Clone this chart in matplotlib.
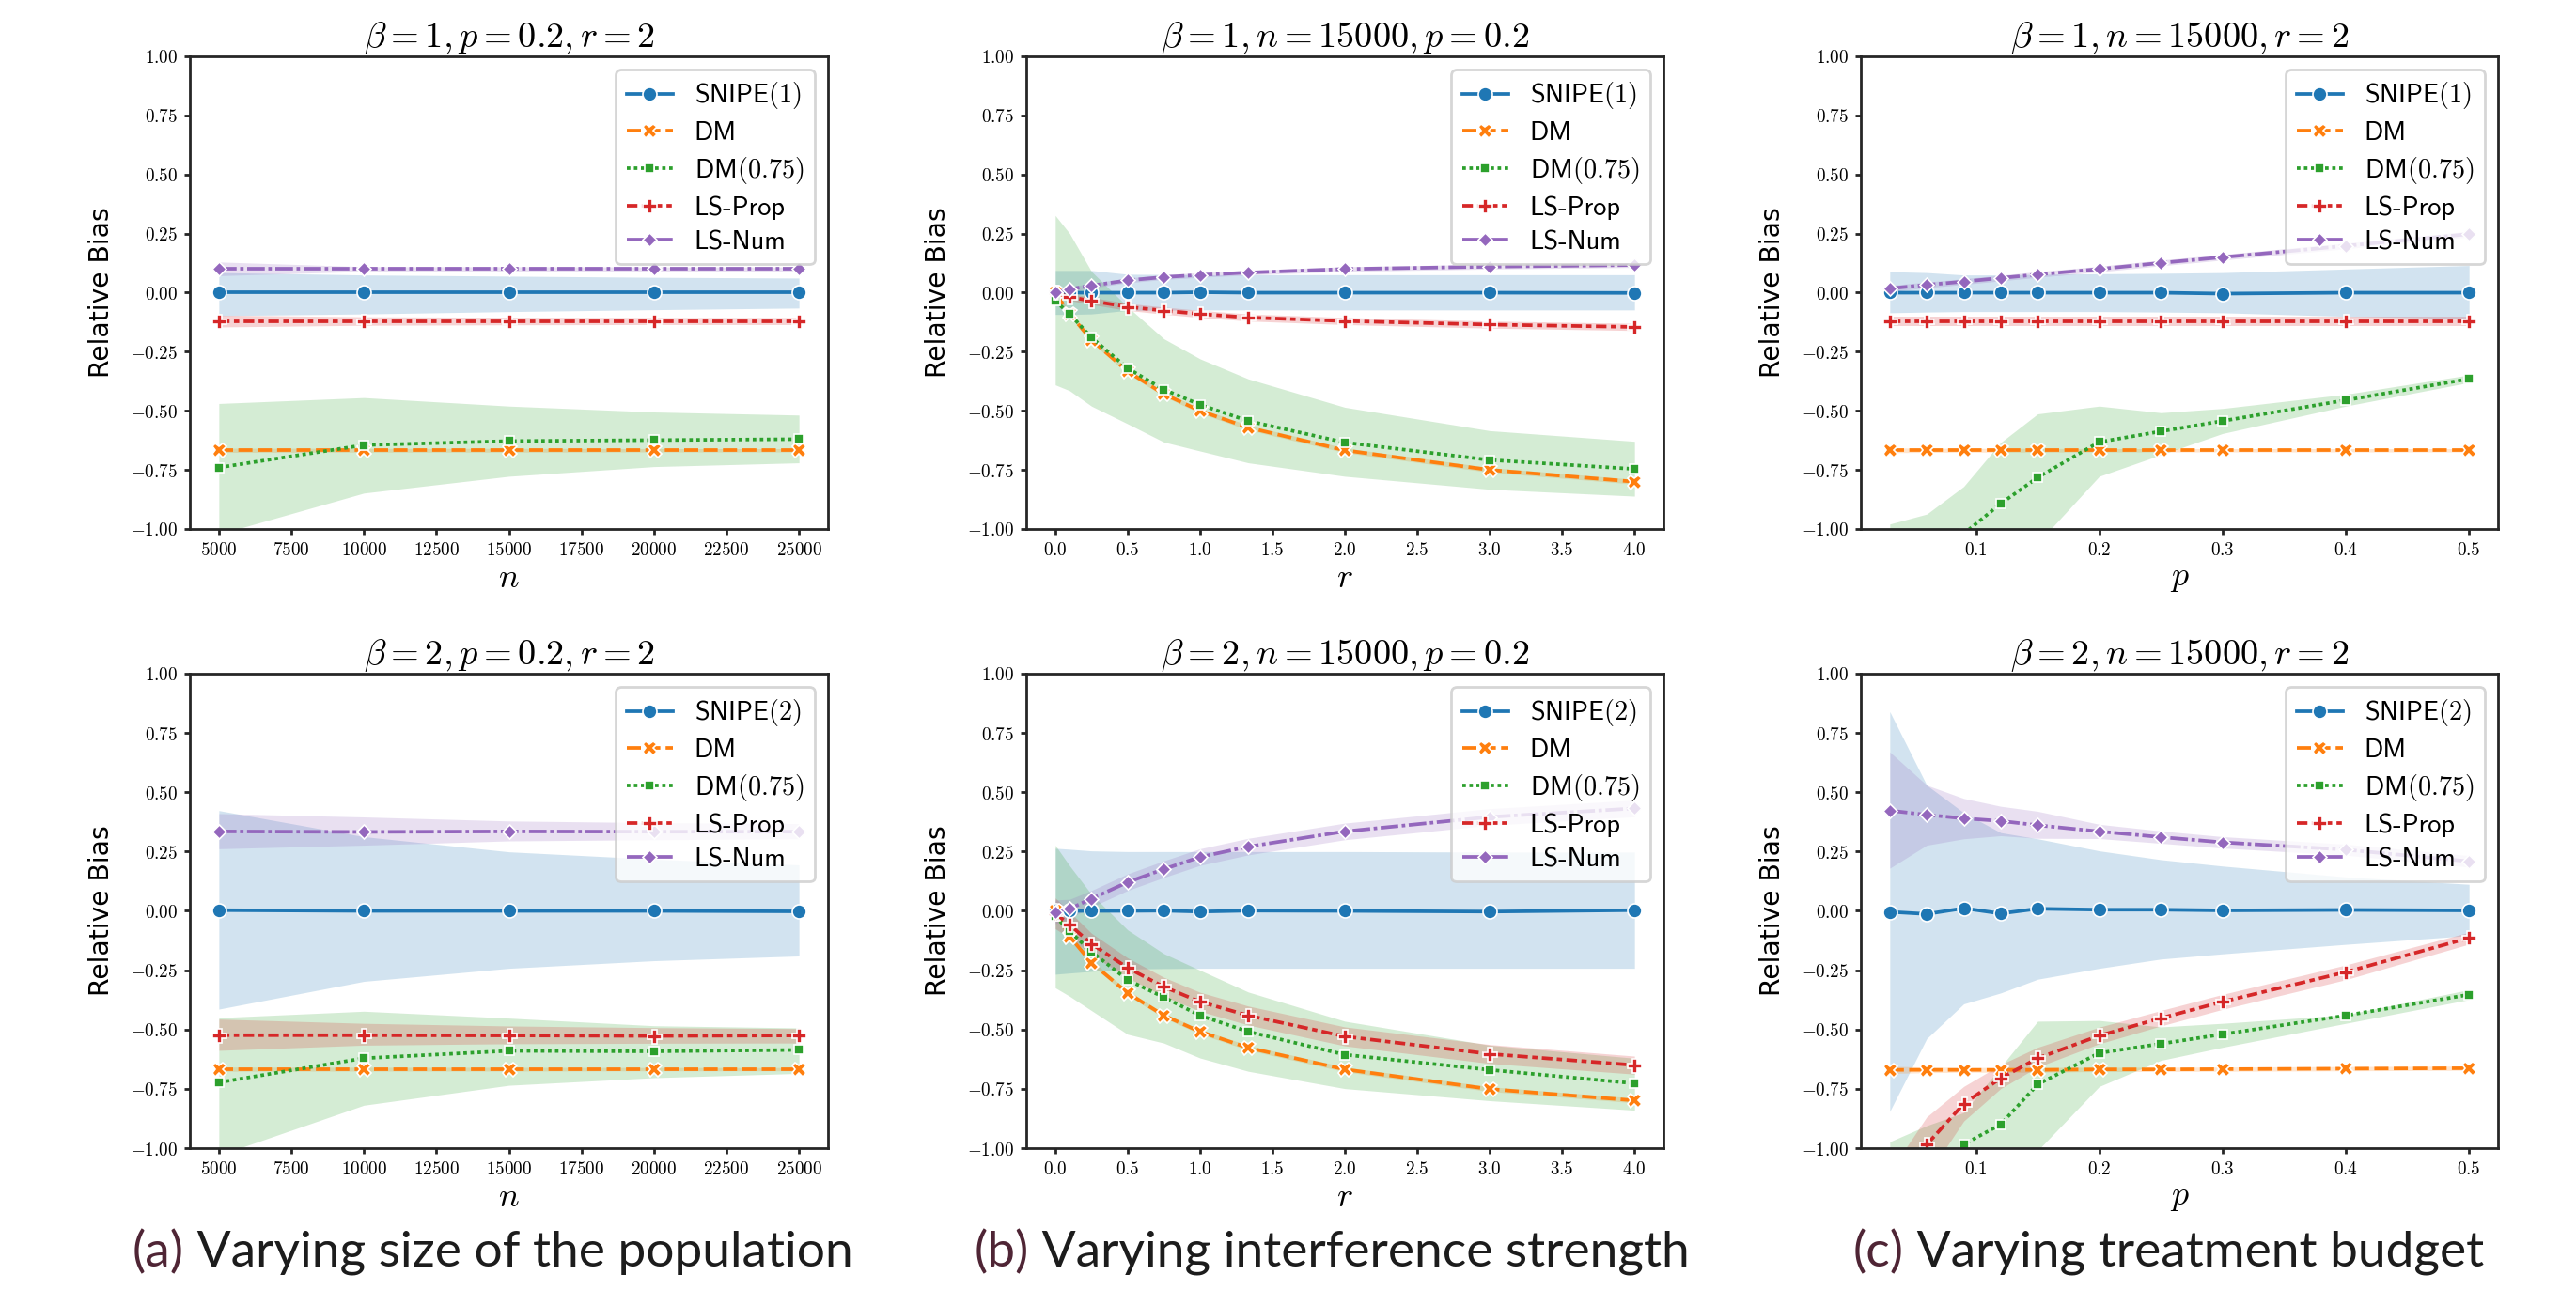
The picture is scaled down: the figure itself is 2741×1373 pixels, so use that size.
import numpy as np
import matplotlib
matplotlib.use('Agg')
import matplotlib.pyplot as plt
from matplotlib.ticker import FuncFormatter, MultipleLocator

plt.rcParams['mathtext.fontset'] = 'cm'

# x values of the three sweeps
n_vals = [5000, 10000, 15000, 20000, 25000]
r_vals = [0, 0.1, 0.25, 0.5, 0.75, 1.0, 1.333, 2.0, 3.0, 4.0]
p_vals = [0.03, 0.06, 0.09, 0.12, 0.15, 0.2, 0.25, 0.3, 0.4, 0.5]

# ---- (a) top, beta=1, varying n
a1_snipe = [0.0, 0.0, 0.0, 0.0, 0.0]
a1_snipe_lo = [-0.097, -0.09, -0.08, -0.072, -0.065]
a1_snipe_hi = [0.085, 0.075, 0.07, 0.065, 0.062]
a1_dm = [-0.667, -0.667, -0.667, -0.667, -0.667]
a1_dm_lo = [-0.676, -0.675, -0.675, -0.674, -0.674]
a1_dm_hi = [-0.658, -0.659, -0.659, -0.66, -0.66]
a1_dm75 = [-0.74, -0.645, -0.628, -0.624, -0.62]
a1_dm75_lo = [-1.022, -0.848, -0.777, -0.736, -0.72]
a1_dm75_hi = [-0.469, -0.444, -0.48, -0.505, -0.518]
a1_lsp = [-0.12, -0.12, -0.12, -0.12, -0.12]
a1_lsp_lo = [-0.145, -0.138, -0.136, -0.135, -0.135]
a1_lsp_hi = [-0.095, -0.102, -0.104, -0.105, -0.105]
a1_lsn = [0.1, 0.1, 0.1, 0.1, 0.1]
a1_lsn_lo = [0.072, 0.09, 0.09, 0.09, 0.091]
a1_lsn_hi = [0.13, 0.11, 0.11, 0.109, 0.109]

# ---- (b) top, beta=1, varying r
b1_snipe = [0.0, 0.0, 0.0, 0.0, 0.0, 0.002, 0.0, 0.0, 0.0, -0.001]
b1_snipe_lo = [-0.092, -0.092, -0.09, -0.075, -0.074, -0.073, -0.073, -0.073, -0.073, -0.073]
b1_snipe_hi = [0.094, 0.094, 0.094, 0.078, 0.077, 0.076, 0.076, 0.076, 0.076, 0.076]
b1_dm = [0.0, -0.09, -0.2, -0.333, -0.429, -0.5, -0.571, -0.667, -0.75, -0.8]
b1_dm_lo = [-0.01, -0.1, -0.21, -0.343, -0.439, -0.51, -0.581, -0.677, -0.76, -0.81]
b1_dm_hi = [0.01, -0.08, -0.19, -0.323, -0.419, -0.49, -0.561, -0.657, -0.74, -0.79]
b1_dm75 = [-0.035, -0.09, -0.19, -0.32, -0.41, -0.474, -0.543, -0.634, -0.708, -0.746]
b1_dm75_lo = [-0.39, -0.415, -0.48, -0.555, -0.632, -0.67, -0.72, -0.777, -0.832, -0.861]
b1_dm75_hi = [0.327, 0.25, 0.09, -0.06, -0.195, -0.28, -0.365, -0.485, -0.584, -0.629]
b1_lsp = [0.0, -0.018, -0.035, -0.06, -0.076, -0.09, -0.105, -0.12, -0.135, -0.145]
b1_lsp_lo = [-0.015, -0.033, -0.05, -0.075, -0.091, -0.105, -0.12, -0.135, -0.15, -0.16]
b1_lsp_hi = [0.015, -0.003, -0.02, -0.045, -0.061, -0.075, -0.09, -0.105, -0.12, -0.13]
b1_lsn = [0.0, 0.015, 0.03, 0.052, 0.066, 0.075, 0.085, 0.1, 0.11, 0.117]
b1_lsn_lo = [-0.01, 0.005, 0.02, 0.042, 0.056, 0.065, 0.075, 0.09, 0.1, 0.107]
b1_lsn_hi = [0.01, 0.025, 0.04, 0.062, 0.076, 0.085, 0.095, 0.11, 0.12, 0.127]

# ---- (c) top, beta=1, varying p
c1_snipe = [0.0, 0.0, 0.0, 0.0, 0.0, 0.0, 0.0, -0.004, 0.0, 0.0]
c1_snipe_lo = [-0.085, -0.082, -0.08, -0.08, -0.08, -0.08, -0.082, -0.085, -0.1, -0.11]
c1_snipe_hi = [0.089, 0.085, 0.075, 0.075, 0.078, 0.08, 0.082, 0.085, 0.1, 0.115]
c1_dm = [-0.667, -0.667, -0.667, -0.667, -0.667, -0.667, -0.667, -0.667, -0.667, -0.667]
c1_dm_lo = [-0.677, -0.676, -0.675, -0.675, -0.675, -0.674, -0.674, -0.674, -0.674, -0.674]
c1_dm_hi = [-0.657, -0.658, -0.659, -0.659, -0.659, -0.66, -0.66, -0.66, -0.66, -0.66]
c1_dm75 = [-1.6, -1.3, -1.02, -0.893, -0.782, -0.632, -0.587, -0.543, -0.455, -0.365]
c1_dm75_lo = [-2.2, -1.9, -1.6, -1.3, -1.06, -0.777, -0.686, -0.596, -0.48, -0.38]
c1_dm75_hi = [-0.979, -0.937, -0.82, -0.634, -0.513, -0.48, -0.508, -0.49, -0.43, -0.348]
c1_lsp = [-0.12, -0.12, -0.12, -0.12, -0.12, -0.12, -0.12, -0.12, -0.12, -0.12]
c1_lsp_lo = [-0.14, -0.14, -0.14, -0.14, -0.14, -0.14, -0.14, -0.14, -0.14, -0.14]
c1_lsp_hi = [-0.1, -0.1, -0.1, -0.1, -0.1, -0.1, -0.1, -0.1, -0.1, -0.1]
c1_lsn = [0.018, 0.033, 0.047, 0.062, 0.077, 0.1, 0.126, 0.15, 0.198, 0.248]
c1_lsn_lo = [0.005, 0.021, 0.035, 0.05, 0.065, 0.088, 0.114, 0.138, 0.186, 0.236]
c1_lsn_hi = [0.031, 0.045, 0.059, 0.074, 0.089, 0.112, 0.138, 0.162, 0.21, 0.26]

# ---- (a) bottom, beta=2, varying n
a2_snipe = [0.003, 0.0, 0.0, 0.0, -0.002]
a2_snipe_lo = [-0.414, -0.297, -0.242, -0.21, -0.19]
a2_snipe_hi = [0.423, 0.313, 0.249, 0.218, 0.194]
a2_dm = [-0.667, -0.667, -0.667, -0.667, -0.667]
a2_dm_lo = [-0.676, -0.675, -0.675, -0.674, -0.674]
a2_dm_hi = [-0.658, -0.659, -0.659, -0.66, -0.66]
a2_dm75 = [-0.723, -0.621, -0.59, -0.592, -0.586]
a2_dm75_lo = [-1.03, -0.819, -0.735, -0.703, -0.685]
a2_dm75_hi = [-0.45, -0.423, -0.452, -0.484, -0.493]
a2_lsp = [-0.524, -0.524, -0.525, -0.527, -0.525]
a2_lsp_lo = [-0.588, -0.566, -0.56, -0.558, -0.557]
a2_lsp_hi = [-0.456, -0.474, -0.485, -0.492, -0.496]
a2_lsn = [0.335, 0.333, 0.335, 0.334, 0.334]
a2_lsn_lo = [0.262, 0.277, 0.295, 0.3, 0.304]
a2_lsn_hi = [0.41, 0.396, 0.379, 0.372, 0.368]

# ---- (b) bottom, beta=2, varying r
b2_snipe = [0.0, 0.0, 0.0, 0.0, 0.001, -0.003, 0.001, 0.0, -0.003, 0.003]
b2_snipe_lo = [-0.267, -0.262, -0.255, -0.245, -0.243, -0.242, -0.242, -0.242, -0.242, -0.242]
b2_snipe_hi = [0.264, 0.26, 0.253, 0.25, 0.25, 0.25, 0.25, 0.25, 0.248, 0.248]
b2_dm = [0.0, -0.108, -0.218, -0.346, -0.441, -0.509, -0.577, -0.668, -0.751, -0.799]
b2_dm_lo = [-0.01, -0.118, -0.228, -0.356, -0.451, -0.519, -0.587, -0.678, -0.761, -0.809]
b2_dm_hi = [0.01, -0.098, -0.208, -0.336, -0.431, -0.499, -0.567, -0.658, -0.741, -0.789]
b2_dm75 = [-0.022, -0.086, -0.172, -0.291, -0.364, -0.441, -0.509, -0.606, -0.67, -0.727]
b2_dm75_lo = [-0.324, -0.36, -0.42, -0.52, -0.557, -0.62, -0.676, -0.749, -0.8, -0.84]
b2_dm75_hi = [0.277, 0.19, 0.07, -0.08, -0.18, -0.25, -0.342, -0.465, -0.566, -0.621]
b2_lsp = [-0.01, -0.059, -0.139, -0.24, -0.32, -0.383, -0.441, -0.529, -0.603, -0.65]
b2_lsp_lo = [-0.075, -0.114, -0.184, -0.282, -0.36, -0.423, -0.481, -0.569, -0.643, -0.688]
b2_lsp_hi = [0.055, -0.004, -0.094, -0.198, -0.28, -0.343, -0.401, -0.489, -0.563, -0.612]
b2_lsn = [-0.004, 0.009, 0.051, 0.121, 0.176, 0.227, 0.271, 0.335, 0.396, 0.432]
b2_lsn_lo = [-0.054, -0.031, 0.016, 0.086, 0.141, 0.192, 0.236, 0.3, 0.361, 0.397]
b2_lsn_hi = [0.046, 0.049, 0.086, 0.156, 0.211, 0.262, 0.306, 0.37, 0.431, 0.467]

# ---- (c) bottom, beta=2, varying p
c2_snipe = [-0.004, -0.013, 0.011, -0.011, 0.009, 0.005, 0.005, 0.002, 0.004, 0.002]
c2_snipe_lo = [-0.845, -0.538, -0.392, -0.346, -0.288, -0.242, -0.203, -0.181, -0.141, -0.104]
c2_snipe_hi = [0.84, 0.53, 0.414, 0.33, 0.304, 0.253, 0.216, 0.189, 0.143, 0.112]
c2_dm = [-0.67, -0.67, -0.67, -0.67, -0.67, -0.668, -0.668, -0.667, -0.665, -0.663]
c2_dm_lo = [-0.685, -0.682, -0.68, -0.68, -0.68, -0.677, -0.677, -0.676, -0.674, -0.672]
c2_dm_hi = [-0.655, -0.658, -0.66, -0.66, -0.66, -0.659, -0.659, -0.658, -0.656, -0.654]
c2_dm75 = [-1.5, -1.15, -0.984, -0.9, -0.731, -0.599, -0.56, -0.52, -0.441, -0.353]
c2_dm75_lo = [-2.0, -1.6, -1.35, -1.15, -1.01, -0.74, -0.63, -0.575, -0.474, -0.374]
c2_dm75_hi = [-0.973, -0.905, -0.85, -0.658, -0.465, -0.462, -0.489, -0.474, -0.438, -0.332]
c2_lsp = [-1.3, -0.985, -0.813, -0.705, -0.621, -0.526, -0.452, -0.383, -0.258, -0.114]
c2_lsp_lo = [-1.5, -1.12, -0.886, -0.749, -0.658, -0.56, -0.485, -0.415, -0.29, -0.14]
c2_lsp_hi = [-1.1, -0.868, -0.74, -0.648, -0.575, -0.49, -0.42, -0.352, -0.228, -0.09]
c2_lsn = [0.423, 0.405, 0.39, 0.379, 0.361, 0.335, 0.311, 0.289, 0.258, 0.209]
c2_lsn_lo = [0.18, 0.277, 0.304, 0.317, 0.306, 0.305, 0.285, 0.265, 0.235, 0.185]
c2_lsn_hi = [0.67, 0.53, 0.474, 0.441, 0.42, 0.365, 0.337, 0.313, 0.281, 0.233]

labels = ['SNIPE$({b})$', 'DM', 'DM$(0.75)$', 'LS-Prop', 'LS-Num']
colors = ['#1f77b4', '#ff7f0e', '#2ca02c', '#d62728', '#9467bd']
markers = ['o', 'X', (4, 0, 45), 'P', (4, 0, 0)]
dashes = [None, (4, 1.5), (1, 1), (3, 1.25, 1.5, 1.25), (5, 1, 1, 1)]

fig = plt.figure(figsize=(13.705, 6.865), dpi=200)
W, H = 2741, 1373


def make_ax(left, top, right, bottom):
    return fig.add_axes([left / W, 1 - bottom / H, (right - left) / W, (bottom - top) / H])


def panel(ax, x, series, beta, title, xlabel, xfmt, xstep):
    for k, (m, lo, hi) in enumerate(series):
        ax.fill_between(x, lo, hi, color=colors[k], alpha=0.2, linewidth=0)
        line, = ax.plot(x, m, color=colors[k], marker=markers[k], lw=1.35, ms=5.4,
                        mec='white', mew=0.6, label=labels[k].format(b=beta))
        if dashes[k] is not None:
            line.set_dashes(dashes[k])
    ax.set_ylim(-1, 1)
    ax.yaxis.set_major_locator(MultipleLocator(0.25))
    ax.xaxis.set_major_locator(MultipleLocator(xstep))
    ax.yaxis.set_major_formatter(FuncFormatter(lambda v, p: '$%.2f$' % v))
    ax.xaxis.set_major_formatter(FuncFormatter(lambda v, p: xfmt % v))
    ax.tick_params(direction='out', length=2.2, width=1.0, color='0.15',
                   labelsize=6.9, pad=2.5)
    for s in ax.spines.values():
        s.set_linewidth(1.0)
        s.set_color('0.15')
    ax.set_title(title, fontsize=13.8, pad=3)
    ax.set_xlabel(xlabel, fontsize=13, labelpad=1)
    ax.set_ylabel('Relative Bias', fontsize=10.2, family='DejaVu Sans', labelpad=6)
    ax.legend(loc='upper right', prop={'family': 'cmss10', 'size': 10.2},
              borderaxespad=0.5, handlelength=1.75, labelspacing=0.38)


cols = [(202, 881), (1092, 1770), (1980, 2658)]
rows = [(60, 563), (717, 1222)]

ax = make_ax(cols[0][0], rows[0][0], cols[0][1], rows[0][1])
panel(ax, n_vals, [(a1_snipe, a1_snipe_lo, a1_snipe_hi), (a1_dm, a1_dm_lo, a1_dm_hi),
                   (a1_dm75, a1_dm75_lo, a1_dm75_hi), (a1_lsp, a1_lsp_lo, a1_lsp_hi),
                   (a1_lsn, a1_lsn_lo, a1_lsn_hi)],
      1, r'$\beta = 1, p = 0.2, r = 2$', '$n$', '$%d$', 2500)

ax = make_ax(cols[1][0], rows[0][0], cols[1][1], rows[0][1])
panel(ax, r_vals, [(b1_snipe, b1_snipe_lo, b1_snipe_hi), (b1_dm, b1_dm_lo, b1_dm_hi),
                   (b1_dm75, b1_dm75_lo, b1_dm75_hi), (b1_lsp, b1_lsp_lo, b1_lsp_hi),
                   (b1_lsn, b1_lsn_lo, b1_lsn_hi)],
      1, r'$\beta = 1, n = 15000, p = 0.2$', '$r$', '$%.1f$', 0.5)

ax = make_ax(cols[2][0], rows[0][0], cols[2][1], rows[0][1])
panel(ax, p_vals, [(c1_snipe, c1_snipe_lo, c1_snipe_hi), (c1_dm, c1_dm_lo, c1_dm_hi),
                   (c1_dm75, c1_dm75_lo, c1_dm75_hi), (c1_lsp, c1_lsp_lo, c1_lsp_hi),
                   (c1_lsn, c1_lsn_lo, c1_lsn_hi)],
      1, r'$\beta = 1, n = 15000, r = 2$', '$p$', '$%.1f$', 0.1)

ax = make_ax(cols[0][0], rows[1][0], cols[0][1], rows[1][1])
panel(ax, n_vals, [(a2_snipe, a2_snipe_lo, a2_snipe_hi), (a2_dm, a2_dm_lo, a2_dm_hi),
                   (a2_dm75, a2_dm75_lo, a2_dm75_hi), (a2_lsp, a2_lsp_lo, a2_lsp_hi),
                   (a2_lsn, a2_lsn_lo, a2_lsn_hi)],
      2, r'$\beta = 2, p = 0.2, r = 2$', '$n$', '$%d$', 2500)

ax = make_ax(cols[1][0], rows[1][0], cols[1][1], rows[1][1])
panel(ax, r_vals, [(b2_snipe, b2_snipe_lo, b2_snipe_hi), (b2_dm, b2_dm_lo, b2_dm_hi),
                   (b2_dm75, b2_dm75_lo, b2_dm75_hi), (b2_lsp, b2_lsp_lo, b2_lsp_hi),
                   (b2_lsn, b2_lsn_lo, b2_lsn_hi)],
      2, r'$\beta = 2, n = 15000, p = 0.2$', '$r$', '$%.1f$', 0.5)

ax = make_ax(cols[2][0], rows[1][0], cols[2][1], rows[1][1])
panel(ax, p_vals, [(c2_snipe, c2_snipe_lo, c2_snipe_hi), (c2_dm, c2_dm_lo, c2_dm_hi),
                   (c2_dm75, c2_dm75_lo, c2_dm75_hi), (c2_lsp, c2_lsp_lo, c2_lsp_hi),
                   (c2_lsn, c2_lsn_lo, c2_lsn_hi)],
      2, r'$\beta = 2, n = 15000, r = 2$', '$p$', '$%.1f$', 0.1)

# sub-figure captions
captions = [('(a)', ' Varying size of the population', 141),
            ('(b)', ' Varying interference strength', 1037),
            ('(c)', ' Varying treatment budget', 1972)]
for tag, rest, x0 in captions:
    t = fig.text(x0 / W, 1 - 1348 / H, tag, color='#4f2535', fontsize=19.2,
                 family='Lato', weight='normal', va='baseline', ha='left')
    plt.annotate(rest, xy=(1, 0), xycoords=t, va='bottom', ha='left',
                 fontsize=19.2, family='Lato', weight='normal', color='#1c1c1c',
                 annotation_clip=False)

fig.savefig('out.png', dpi=200)
